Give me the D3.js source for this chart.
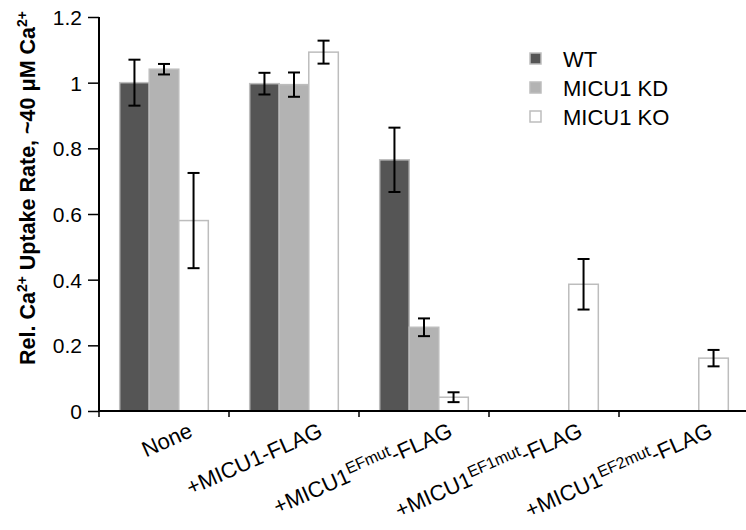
<!DOCTYPE html>
<html lang="en">
<head>
    <meta charset="UTF-8">
    <title>MICU1 uptake</title>
    <script src="https://d3js.org/d3.v7.min.js"></script>
    <style>
        body {
            margin: 0;
            background: #fff;
            font-family: "Liberation Sans", Arial, sans-serif;
        }
        svg text { fill: #000; }
    </style>
</head>
<body>
    <div id="chart"></div>

    <script>
        // dati
        const categories = ["None", "+MICU1-FLAG", "+MICU1EFmut-FLAG", "+MICU1EF1mut-FLAG", "+MICU1EF2mut-FLAG"];
        const labelBase = ["None", "+MICU1", "+MICU1", "+MICU1", "+MICU1"];
        const labelSup = ["", "", "EFmut", "EF1mut", "EF2mut"];
        const labelTail = ["", "-FLAG", "-FLAG", "-FLAG", "-FLAG"];
        const series = ["WT", "MICU1 KD", "MICU1 KO"];
        const wtValues = [1.0, 0.997, 0.765, null, null];
        const kdValues = [1.041, 0.994, 0.255, null, null];
        const koValues = [0.58, 1.093, 0.042, 0.386, 0.161];
        const wtErr = [0.07, 0.033, 0.098, null, null];
        const kdErr = [0.016, 0.037, 0.027, null, null];
        const koErr = [0.145, 0.035, 0.015, 0.077, 0.025];
        const yTicks = [0, 0.2, 0.4, 0.6, 0.8, 1, 1.2];

        const width = 746;
        const height = 530;
        const fills = ["#555555", "#b3b3b3", "#ffffff"];
        const strokes = ["#bdbdbd", "#bdbdbd", "#bdbdbd"];

        const values = [wtValues, kdValues, koValues];
        const errs = [wtErr, kdErr, koErr];

        const svg = d3.select("#chart")
            .append("svg")
            .attr("width", width)
            .attr("height", height);

        const x0 = d3.scaleBand().domain(categories).range([99, 749]).padding(0);
        const x1 = d3.scaleBand().domain(series).range([0, x0.bandwidth()]).paddingInner(0).paddingOuter(0.7);
        const y = d3.scaleLinear().domain([0, 1.2]).range([411, 17]);

        // barre
        const groups = svg.selectAll(".group")
            .data(categories)
            .enter()
            .append("g")
            .attr("transform", d => `translate(${x0(d)},0)`);

        series.forEach((s, si) => {
            groups.each(function (c, ci) {
                const v = values[si][ci];
                if (v == null) return;
                d3.select(this).append("rect")
                    .attr("x", x1(s))
                    .attr("y", y(v))
                    .attr("width", x1.bandwidth())
                    .attr("height", y(0) - y(v))
                    .attr("fill", fills[si])
                    .attr("stroke", strokes[si])
                    .attr("stroke-width", 1.5);
            });
        });

        // barre di errore
        series.forEach((s, si) => {
            groups.each(function (c, ci) {
                const v = values[si][ci];
                const e = errs[si][ci];
                if (v == null || e == null) return;
                const cx = x1(s) + x1.bandwidth() / 2;
                const g = d3.select(this).append("g")
                    .attr("stroke", "#000")
                    .attr("stroke-width", 2);
                g.append("line").attr("x1", cx).attr("x2", cx).attr("y1", y(v + e)).attr("y2", y(v - e));
                g.append("line").attr("x1", cx - 6).attr("x2", cx + 6).attr("y1", y(v + e)).attr("y2", y(v + e));
                g.append("line").attr("x1", cx - 6).attr("x2", cx + 6).attr("y1", y(v - e)).attr("y2", y(v - e));
            });
        });

        // asse y
        const yAxis = svg.append("g")
            .attr("transform", "translate(99,0)")
            .call(d3.axisLeft(y).tickValues(yTicks).tickSize(11).tickPadding(6)
                .tickFormat(d => d3.format("~g")(d)));
        yAxis.select(".domain").attr("stroke", "#000").attr("stroke-width", 2)
            .attr("d", `M0,${y(1.2)}V${y(0)}`);
        yAxis.selectAll(".tick line").attr("stroke", "#000").attr("stroke-width", 1.5);
        yAxis.selectAll(".tick text")
            .style("font-family", "'Liberation Sans', Arial, sans-serif")
            .style("font-size", "21px")
            .attr("dy", "0.36em");

        // asse x
        const xAxis = svg.append("g")
            .attr("transform", `translate(0,${y(0)})`);
        xAxis.append("line")
            .attr("x1", 98).attr("x2", width)
            .attr("stroke", "#000").attr("stroke-width", 2);
        xAxis.selectAll(".xtick")
            .data(categories)
            .enter()
            .append("line")
            .attr("x1", d => x0(d)).attr("x2", d => x0(d))
            .attr("y1", 0).attr("y2", 6)
            .attr("stroke", "#000").attr("stroke-width", 1.5);

        const labels = svg.selectAll(".xlabel")
            .data(categories)
            .enter()
            .append("text")
            .attr("text-anchor", "end")
            .attr("transform", d => `translate(${x0(d) + x0.bandwidth() / 2 + 30},436) rotate(-24)`)
            .style("font-size", "22px");

        labels.each(function (d, i) {
            const t = d3.select(this);
            t.append("tspan").text(labelBase[i]);
            if (labelSup[i]) {
                t.append("tspan").attr("dy", -8)
                    .style("font-size", "16px").style("font-weight", "normal")
                    .text(labelSup[i]);
                t.append("tspan").attr("dy", 8).text(labelTail[i]);
            } else if (labelTail[i]) {
                t.append("tspan").text(labelTail[i]);
            }
        });

        // titolo asse y
        const title = svg.append("text")
            .attr("transform", "translate(35,188) rotate(-90)")
            .attr("text-anchor", "middle")
            .style("font-size", "21.5px")
            .style("font-weight", "bold");
        title.append("tspan").text("Rel. Ca");
        title.append("tspan").attr("dy", -8).style("font-size", "14px").text("2+");
        title.append("tspan").attr("dy", 8).text(" Uptake Rate, ~40 μM Ca");
        title.append("tspan").attr("dy", -8).style("font-size", "14px").text("2+");

        // legenda
        const legend = svg.selectAll(".legend")
            .data(series)
            .enter()
            .append("g")
            .attr("transform", (d, i) => `translate(530,${59 + i * 29})`);
        legend.append("rect")
            .attr("x", 0).attr("y", -6)
            .attr("width", 11).attr("height", 11)
            .attr("fill", (d, i) => fills[i])
            .attr("stroke", (d, i) => strokes[i])
            .attr("stroke-width", 1.5);
        legend.append("text")
            .attr("x", 33).attr("y", 0)
            .attr("dy", "0.36em")
            .style("font-size", "22px")
            .text(d => d);
    </script>
</body>
</html>
